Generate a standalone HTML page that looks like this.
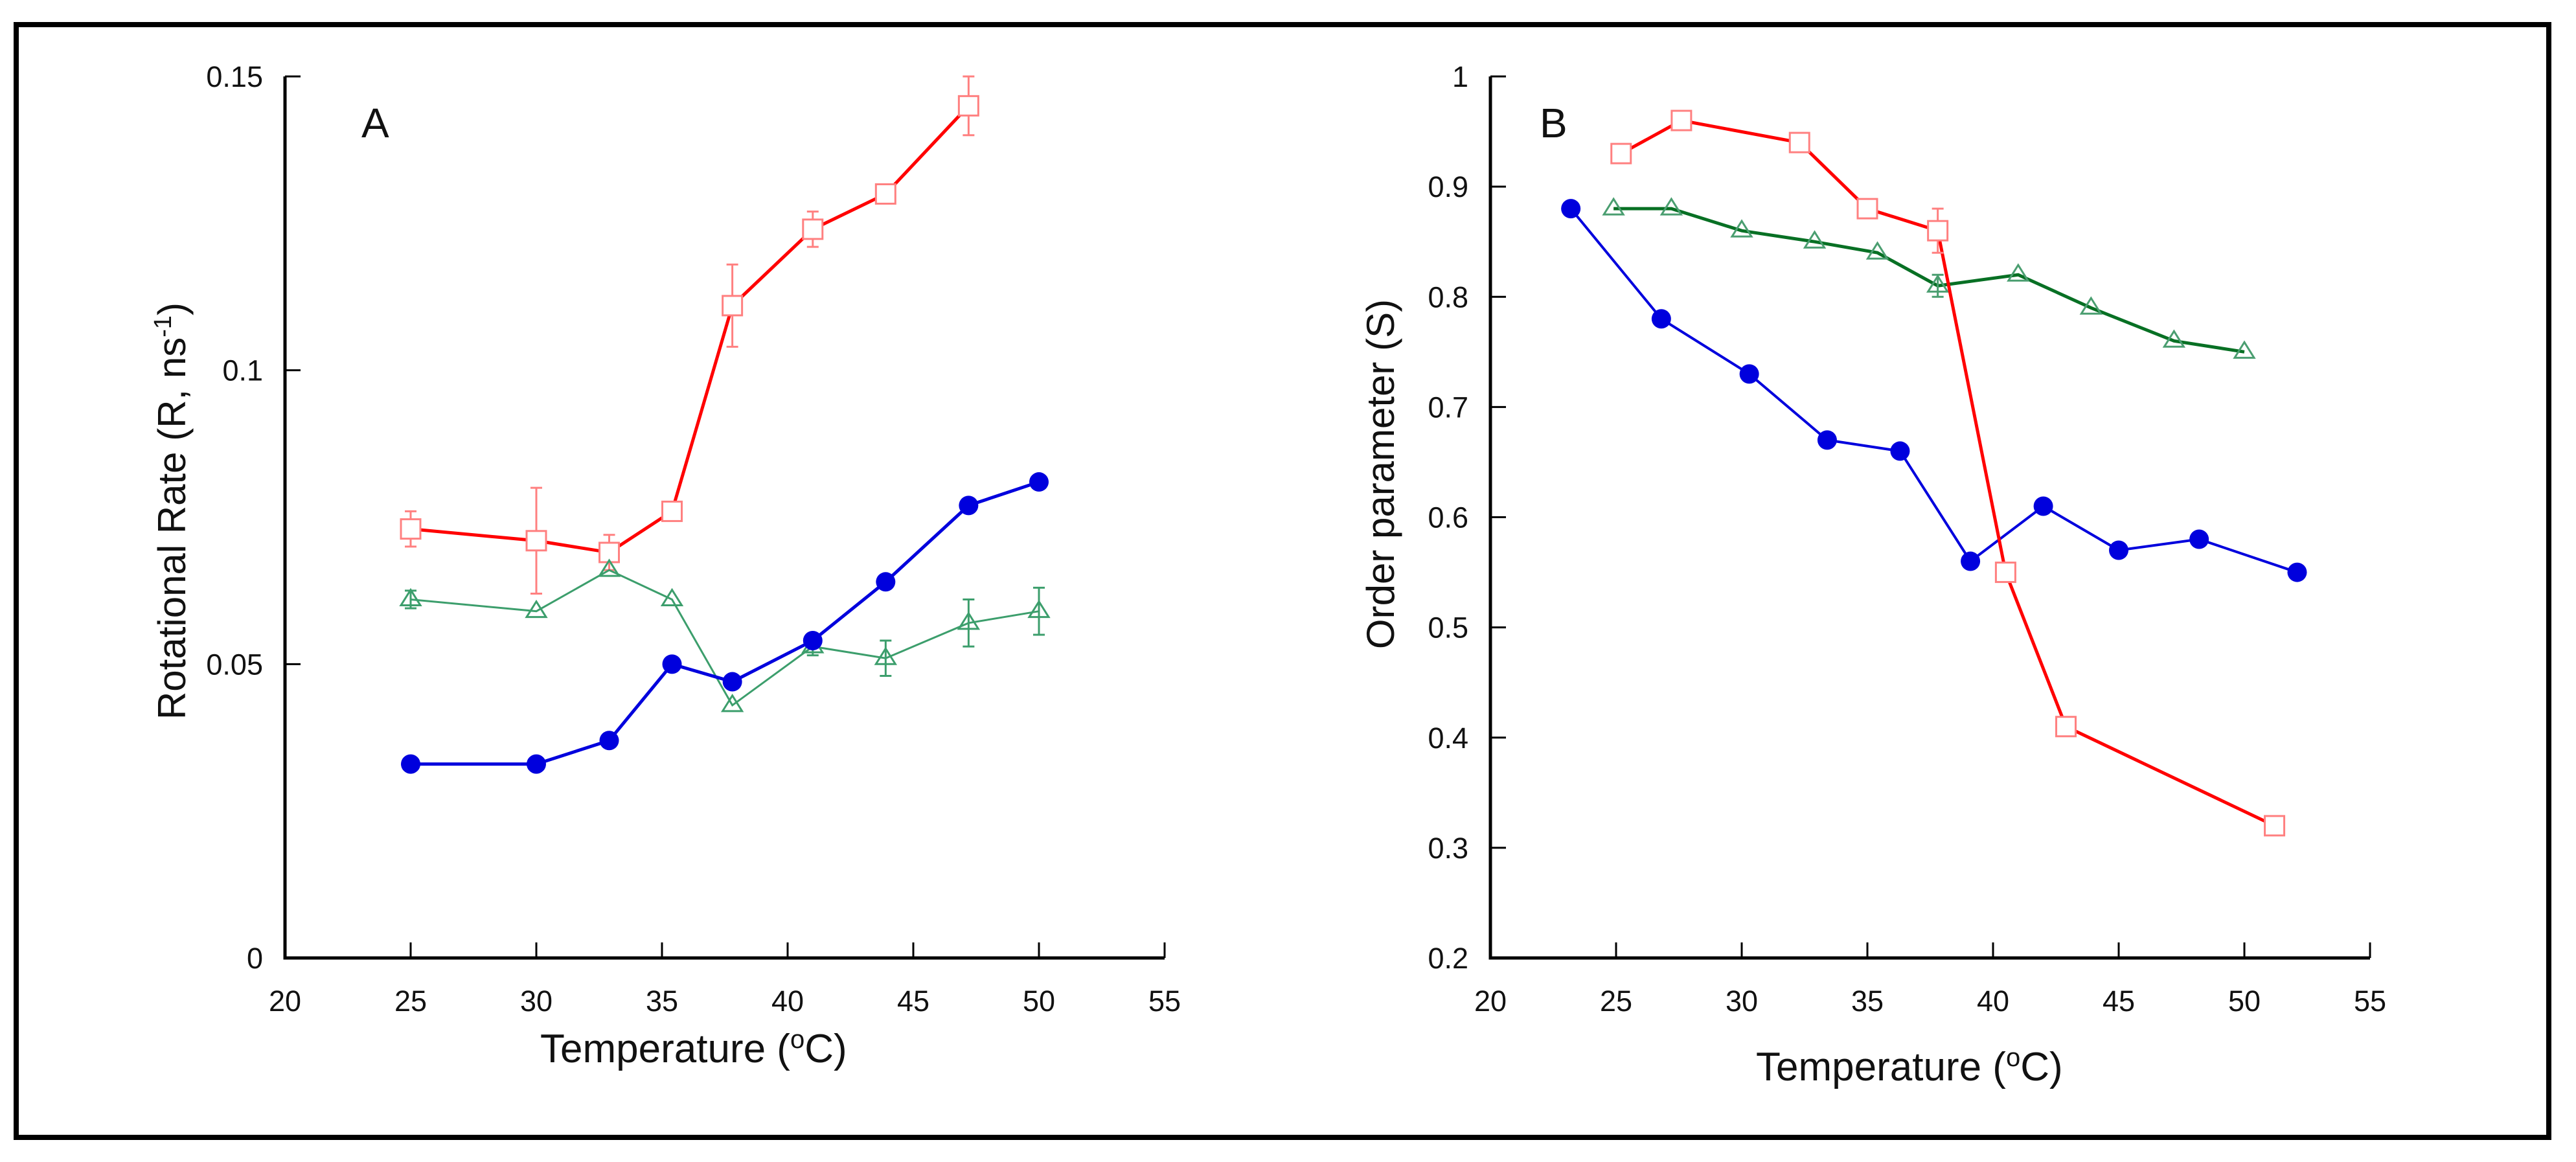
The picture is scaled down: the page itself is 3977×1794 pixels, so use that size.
<!DOCTYPE html>
<html><head><meta charset="utf-8"><style>
html,body{margin:0;padding:0;background:#fff}
svg{display:block}
text{font-family:"Liberation Sans",Arial,sans-serif;fill:#111}
</style></head><body>
<svg id="fig" width="3977" height="1794" viewBox="0 0 3977 1794" xmlns="http://www.w3.org/2000/svg">
<rect x="25" y="38" width="3910" height="1718" fill="#fff" stroke="#000" stroke-width="8"/>
<g id="pa"></g>
<g id="pb"></g>
</svg>
<script>
// Panel A data
const aRedX=[25,30,32.9,35.4,37.8,41,43.9,47.2];
const aRedY=[0.073,0.071,0.069,0.076,0.111,0.124,0.130,0.145];
const aRedE=[0.003,0.009,0.003,0.001,0.007,0.003,0.001,0.005];
const aGreenX=[25,30,32.9,35.4,37.8,41,43.9,47.2,50];
const aGreenY=[0.061,0.059,0.066,0.061,0.043,0.053,0.051,0.057,0.059];
const aGreenE=[0.0015,0,0,0,0,0.0015,0.003,0.004,0.004];
const aBlueX=[25,30,32.9,35.4,37.8,41,43.9,47.2,50];
const aBlueY=[0.033,0.033,0.037,0.050,0.047,0.054,0.064,0.077,0.081];
const aYTicks=[0,0.05,0.1,0.15];
const aYLabels=["0","0.05","0.1","0.15"];
// Panel B data
const bRedX=[25.2,27.6,32.3,35,37.8,40.5,42.9,51.2];
const bRedY=[0.93,0.96,0.94,0.88,0.86,0.55,0.41,0.32];
const bRedE=[0,0,0,0,0.02,0,0,0];
const bGreenX=[24.9,27.2,30,32.9,35.4,37.8,41,43.9,47.2,50];
const bGreenY=[0.88,0.88,0.86,0.85,0.84,0.81,0.82,0.79,0.76,0.75];
const bGreenE=[0,0,0,0,0,0.01,0,0,0,0];
const bBlueX=[23.2,26.8,30.3,33.4,36.3,39.1,42,45,48.2,52.1];
const bBlueY=[0.88,0.78,0.73,0.67,0.66,0.56,0.61,0.57,0.58,0.55];
const bYTicks=[0.2,0.3,0.4,0.5,0.6,0.7,0.8,0.9,1];
const bYLabels=["0.2","0.3","0.4","0.5","0.6","0.7","0.8","0.9","1"];
const xTicks=[20,25,30,35,40,45,50,55];
const xLabels=["20","25","30","35","40","45","50","55"];

const NS="http://www.w3.org/2000/svg";
function mk(parent,tag,attrs,txt){const e=document.createElementNS(NS,tag);for(const k in attrs)e.setAttribute(k,attrs[k]);if(txt!==undefined)e.textContent=txt;parent.appendChild(e);return e;}

function panel(g,o){
  const X0=o.x0,X1=o.x0+1358,Y0=1479,Y1=118;
  const sx=v=>X0+(v-20)/35*(X1-X0);
  const sy=v=>Y0-(v-o.ymin)/(o.ymax-o.ymin)*(Y0-Y1);
  let e;
  e=mk(g,'path',{d:`M${X0} ${Y1}V${Y0}H${X1}`,fill:'none',stroke:'#000','stroke-width':5});
  
  
  xTicks.forEach((t,i)=>{
    if(i>0){e=mk(g,'line',{x1:sx(t),x2:sx(t),y1:Y0,y2:Y0-24,stroke:'#000','stroke-width':3});
    
    }
    e=mk(g,'text',{x:sx(t),y:Y0+82,'font-size':45,'text-anchor':'middle'},xLabels[i]);
    
    
  });
  o.yt.forEach((t,i)=>{
    if(i>0){e=mk(g,'line',{x1:X0,x2:X0+24,y1:sy(t),y2:sy(t),stroke:'#000','stroke-width':3});
    
    }
    e=mk(g,'text',{x:X0-34,y:sy(t)+16,'font-size':45,'text-anchor':'end'},o.yl[i]);
    
    
  });
  e=mk(g,'text',{x:o.x0+o.tdx,y:o.lblY,'font-size':62});
  e.innerHTML=`Temperature (<tspan dy="-22" font-size="40">o</tspan><tspan dy="22">C)</tspan>`;
  
  
  e=mk(g,'text',{x:o.ytx,y:o.yty,'font-size':60,'text-anchor':'middle',transform:`rotate(-90 ${o.ytx} ${o.yty})`});
  e.innerHTML=o.ytitle;
  
  
  e=mk(g,'text',{x:o.x0+o.ldx,y:212,'font-size':64},o.letter);
  
  
  o.series.forEach(s=>{
    const pts=s.x.map((v,i)=>sx(v)+','+sy(s.y[i])).join(' ');
    e=mk(g,'polyline',{points:pts,fill:'none',stroke:s.line,'stroke-width':s.lw});
    
    
    s.x.forEach((v,i)=>{
      const cx=sx(v),cy=sy(s.y[i]);
      if(s.e&&s.e[i]>0){
        const a=sy(s.y[i]+s.e[i]),b=sy(s.y[i]-s.e[i]);
        e=mk(g,'path',{d:`M${cx} ${a}V${b}M${cx-9} ${a}H${cx+9}M${cx-9} ${b}H${cx+9}`,stroke:s.mc,'stroke-width':3,fill:'none'});
        
        
      }
      if(s.m==='c'){e=mk(g,'circle',{cx:cx,cy:cy,r:15,fill:'#0000dd'});}
      else if(s.m==='s'){e=mk(g,'rect',{x:cx-15,y:cy-15,width:30,height:30,fill:'#fff',stroke:'#ff8080','stroke-width':3});}
      else {e=mk(g,'path',{d:`M${cx} ${cy-15}L${cx+15} ${cy+9}L${cx-15} ${cy+9}Z`,fill:'none',stroke:s.mc,'stroke-width':3});}
      
      
    });
  });
}
panel(document.getElementById('pa'),{x0:440,ymin:0,ymax:0.15,yt:aYTicks,yl:aYLabels,lblY:1640,tdx:394,ldx:118,ytx:286,yty:789,letter:'A',
  ytitle:'Rotational Rate (R, ns<tspan dy="-22" font-size="38">-1</tspan><tspan dy="22">)</tspan>',
  series:[
   {name:'red',x:aRedX,y:aRedY,e:aRedE,line:'#ff0000',lw:5,m:'s',mc:'#ff8080'},
   {name:'green',x:aGreenX,y:aGreenY,e:aGreenE,line:'#3c9e6c',lw:3,m:'t',mc:'#3c9e6c'},
   {name:'blue',x:aBlueX,y:aBlueY,line:'#0000dd',lw:5,m:'c'}]});
panel(document.getElementById('pb'),{x0:2301,ymin:0.2,ymax:1,yt:bYTicks,yl:bYLabels,lblY:1668,tdx:410,ldx:76,ytx:2152,yty:732,letter:'B',
  ytitle:'Order parameter (S)',
  series:[
   {name:'green',x:bGreenX,y:bGreenY,e:bGreenE,line:'#087024',lw:5,m:'t',mc:'#4a9e70'},
   {name:'blue',x:bBlueX,y:bBlueY,line:'#0000dd',lw:4,m:'c'},
   {name:'red',x:bRedX,y:bRedY,e:bRedE,line:'#ff0000',lw:5,m:'s',mc:'#ff8080'}]});
</script>
</body></html>
